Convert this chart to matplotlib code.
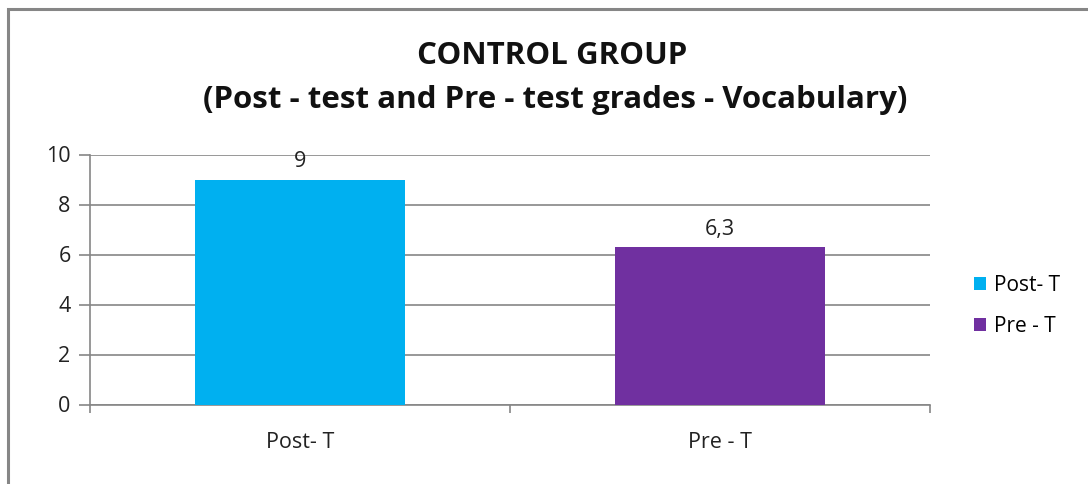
import matplotlib.pyplot as plt
from matplotlib.patches import Rectangle

categories = ["Post- T", "Pre - T"]
grades = [9, 6.3]
labels = ["9", "6,3"]
colors = ["#00B0F0", "#7030A0"]

plt.rcParams["font.family"] = ["Open Sans", "DejaVu Sans"]

fig = plt.figure(figsize=(10.88, 4.84), dpi=100)
fig.patch.set_facecolor("white")

# outer chart frame (runs off the right and bottom edges)
W, H = 1088, 484
fig.patches.append(Rectangle((8 / W, -0.1), 1.2, (H - 9) / H + 0.1,
                             transform=fig.transFigure, fill=False,
                             edgecolor="#868686", linewidth=2.2))

ax = fig.add_axes([90 / W, 79.5 / H, 840 / W, 250 / H])

x = range(len(categories))
bars = ax.bar(x, grades, width=0.5, color=colors, label=categories, zorder=3)

for bar, txt in zip(bars, labels):
    ax.text(bar.get_x() + bar.get_width() / 2, bar.get_height() + 0.3, txt,
            ha="center", va="bottom", fontsize=15.5, color="#222222")

ax.set_xlim(-0.5, 1.5)
ax.set_ylim(0, 10)
ax.set_yticks(range(0, 11, 2))
ax.yaxis.grid(True, color="#868686", linewidth=1.2, zorder=0)

ax.set_xticks([-0.5, 0.5, 1.5], minor=False)
ax.set_xticklabels(["", "", ""])
ax.set_xticks(list(x), minor=True)
ax.set_xticklabels(categories, minor=True, fontsize=15.5)
ax.tick_params(axis="x", which="minor", length=0, pad=20, colors="#222222")
ax.tick_params(axis="x", which="major", length=6, direction="out",
               color="#868686", width=1.2)
ax.tick_params(axis="y", length=8, direction="out", color="#868686",
               width=1.2, labelsize=15.5, pad=6, labelcolor="#222222")

for side in ["top", "right"]:
    ax.spines[side].set_visible(False)
for side in ["left", "bottom"]:
    ax.spines[side].set_color("#868686")
    ax.spines[side].set_linewidth(1.2)

fig.text(552 / W, 1 - 56 / H, "CONTROL GROUP", ha="center", va="center",
         fontsize=22.5, fontweight="bold", color="#111111")
fig.text(555 / W, 1 - 100 / H,
         "(Post - test and Pre - test grades - Vocabulary)",
         ha="center", va="center", fontsize=22.5, fontweight="bold",
         color="#111111")

leg = fig.legend(handles=list(bars), labels=categories, loc="center left",
                 bbox_to_anchor=(955 / W, 1 - 306 / H), frameon=False,
                 fontsize=15, handlelength=0.6, handleheight=0.6,
                 handletextpad=0.35, labelspacing=0.95)

fig.savefig("out.png", dpi=100, facecolor="white")
